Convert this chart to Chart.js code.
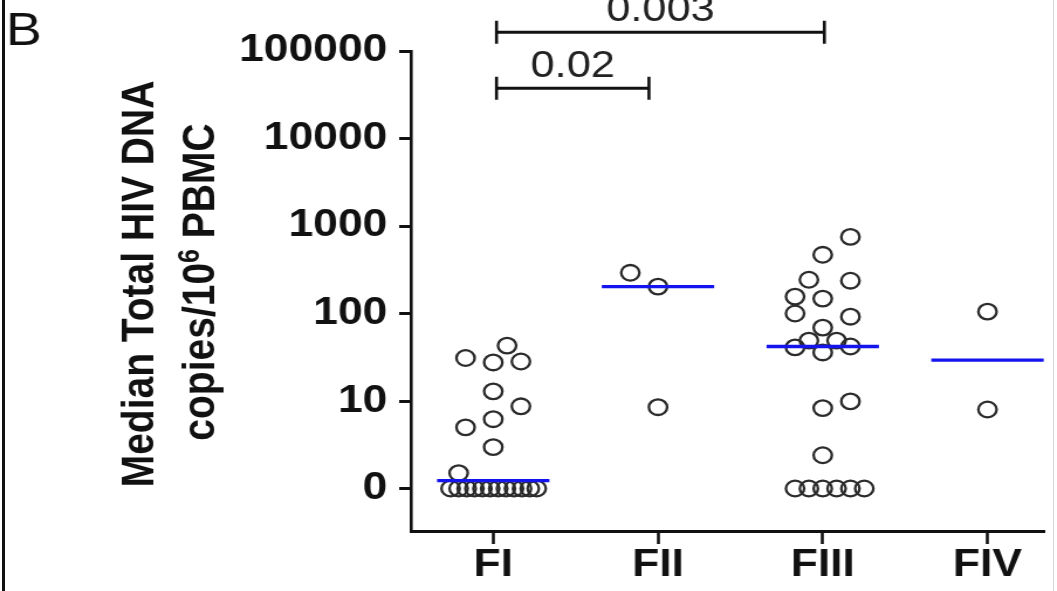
<!DOCTYPE html>
<html>
<head>
<meta charset="utf-8">
<title>Total HIV DNA by group</title>
<script src="https://cdn.jsdelivr.net/npm/chart.js@4.4.1/dist/chart.umd.min.js"></script>
<style>
  html, body { margin: 0; padding: 0; background: #fff; }
  body { width: 1057px; height: 591px; overflow: hidden; position: relative; }
  .wrap { position: absolute; left: 0; top: 0; width: 903px; height: 591px; transform: scaleX(1.1705); transform-origin: 0 0; }
  .frame-left { position: absolute; left: 2px; top: 0; width: 3px; height: 591px; background: #111; }
  .frame-right { position: absolute; left: 1053px; top: 0; width: 1px; height: 591px; background: #d8d8d8; }
</style>
</head>
<body>
<div class="wrap"><canvas id="dnaChart"></canvas></div>
<div class="frame-left"></div>
<div class="frame-right"></div>
<script>
const categories = ['FI', 'FII', 'FIII', 'FIV'];

// total HIV DNA, copies per 10^6 PBMC (0 = undetectable)
const fiValues = [31, 27.6, 43, 28.3, 12.9, 8.7, 6.2, 5.0, 2.97, 1.5, 0, 0, 0, 0, 0, 0, 0, 0, 0, 0, 0, 0];
const fiiValues = [292, 203, 8.5];
const fiiiValues = [751, 469, 243, 237, 156, 148, 100, 92, 69, 49, 49, 41, 42, 35.9, 8.3, 9.9, 2.4, 0, 0, 0, 0, 0, 0];
const fivValues = [105, 8.0];
const medians = [1.23, 203, 42, 29.3];

const yTickValues = [1, 10, 100, 1000, 10000, 100000];
const yTickLabels = ['0', '10', '100', '1000', '10000', '100000'];

const pValues = ['0.02', '0.003'];

// sideways spread of the dots in each column, in dot widths
const fiSlots = [-1, 0, 0.5, 1, 0, 1, 0, -1, 0, -1.25, -1.54, -1.25, -0.96, -0.68, -0.39, -0.11, 0.18, 0.46, 0.75, 1.04, 1.32, 1.57];
const fiiSlots = [-1, 0, 0];
const fiiiSlots = [1, 0, -0.5, 1, -1, 0, -1, 1, 0, -0.5, 0.5, -1, 1, 0, 0, 1, 0, -1, -0.5, 0, 0.5, 1, 1.5];
const fivSlots = [0, 0];

const SLOT = 0.168;
const MEDIAN_HALF = 0.341;
const ZERO_AT = 1; // log axis has no 0, undetectable values sit on the "0" tick

// bracket heights (y scale value) and ends (x scale value)
const bracketLevels = [37500, 163700];
const bracketEnds = [[1.02, 1.945], [1.02, 3.01]];

const FONT = '"Liberation Sans", Arial, sans-serif';

const groups = [fiValues, fiiValues, fiiiValues, fivValues];
const slots = [fiSlots, fiiSlots, fiiiSlots, fivSlots];

const dotSets = groups.map((vals, g) => ({
  type: 'scatter',
  order: 2,
  data: vals.map((v, i) => ({ x: g + 1 + slots[g][i] * SLOT, y: v === 0 ? ZERO_AT : v })),
  pointStyle: 'circle',
  pointRadius: 7.8,
  pointBorderWidth: 2.3,
  pointBorderColor: '#2b2b2b',
  pointBackgroundColor: 'rgba(0,0,0,0)'
}));

const medianSets = medians.map((m, g) => ({
  type: 'line',
  order: 1,
  data: [{ x: g + 1 - MEDIAN_HALF, y: m }, { x: g + 1 + MEDIAN_HALF, y: m }],
  borderColor: '#1414ee',
  borderWidth: 3.4,
  pointRadius: 0,
  fill: false
}));

const extras = {
  id: 'extras',
  afterDraw(chart) {
    const { ctx, scales: { x, y } } = chart;
    ctx.save();
    ctx.fillStyle = '#111';
    ctx.strokeStyle = '#111';

    // panel letter
    ctx.font = '46px ' + FONT;
    ctx.textAlign = 'left';
    ctx.textBaseline = 'alphabetic';
    ctx.fillText('B', 5, 45);

    // y axis title, two rotated lines
    const big = 'bold 39px ' + FONT;
    const small = 'bold 25px ' + FONT;
    ctx.save();
    ctx.translate(131, 284);
    ctx.rotate(-Math.PI / 2);
    ctx.textAlign = 'center';
    ctx.font = big;
    ctx.fillText('Median Total HIV DNA', 0, 0);
    ctx.restore();

    ctx.save();
    ctx.translate(182.5, 282);
    ctx.rotate(-Math.PI / 2);
    ctx.textAlign = 'left';
    ctx.font = big;
    const wA = ctx.measureText('copies/10').width;
    const wC = ctx.measureText(' PBMC').width;
    ctx.font = small;
    const wB = ctx.measureText('6').width;
    const sx = -(wA + wB + wC) / 2;
    ctx.font = big;
    ctx.fillText('copies/10', sx, 0);
    ctx.font = small;
    ctx.fillText('6', sx + wA, -13);
    ctx.font = big;
    ctx.fillText(' PBMC', sx + wA + wB, 0);
    ctx.restore();

    // significance brackets
    ctx.font = '37px ' + FONT;
    ctx.textAlign = 'center';
    ctx.textBaseline = 'middle';
    pValues.forEach((p, i) => {
      const yy = y.getPixelForValue(bracketLevels[i]);
      const x0 = x.getPixelForValue(bracketEnds[i][0]);
      const x1 = x.getPixelForValue(bracketEnds[i][1]);
      ctx.lineWidth = 3;
      ctx.beginPath();
      ctx.moveTo(x0, yy);
      ctx.lineTo(x1, yy);
      ctx.stroke();
      ctx.lineWidth = 2.6;
      ctx.beginPath();
      ctx.moveTo(x0, yy - 11.5);
      ctx.lineTo(x0, yy + 11.5);
      ctx.moveTo(x1, yy - 11.5);
      ctx.lineTo(x1, yy + 11.5);
      ctx.stroke();
      ctx.fillStyle = '#222';
      ctx.fillText(p, (x0 + x1) / 2, yy - 21);
    });
    ctx.restore();
  }
};

new Chart(document.getElementById('dnaChart'), {
  data: { datasets: [...medianSets, ...dotSets] },
  options: {
    responsive: true,
    maintainAspectRatio: false,
    animation: false,
    layout: { padding: { top: 51, right: 3, left: 0, bottom: 0 } },
    plugins: { legend: { display: false }, tooltip: { enabled: false } },
    scales: {
      x: {
        type: 'linear',
        bounds: 'data',
        min: 0.5,
        max: 4.35,
        afterBuildTicks: (s) => { s.ticks = categories.map((c, i) => ({ value: i + 1 })); },
        afterFit: (s) => { s.height = 60; },
        ticks: {
          callback: (v) => categories[v - 1] ?? '',
          font: { family: FONT, size: 38, weight: 'bold' },
          color: '#111',
          padding: -1,
          maxRotation: 0,
          autoSkip: false
        },
        grid: { drawOnChartArea: false, drawTicks: true, tickLength: 13, tickWidth: 2.6, tickColor: '#111' },
        border: { color: '#111', width: 3 }
      },
      y: {
        type: 'logarithmic',
        bounds: 'data',
        min: 0.327,
        max: 100000,
        afterBuildTicks: (s) => { s.ticks = yTickValues.map((v) => ({ value: v })); },
        afterFit: (s) => { s.width = 351; },
        ticks: {
          callback: (v) => yTickLabels[yTickValues.indexOf(v)] ?? '',
          font: { family: FONT, size: 38, weight: 'bold' },
          color: '#111',
          padding: 10,
          autoSkip: false
        },
        grid: { drawOnChartArea: false, drawTicks: true, tickLength: 10, tickWidth: 3, tickColor: '#111' },
        border: { color: '#111', width: 2.6 }
      }
    }
  },
  plugins: [extras]
});
</script>
</body>
</html>
